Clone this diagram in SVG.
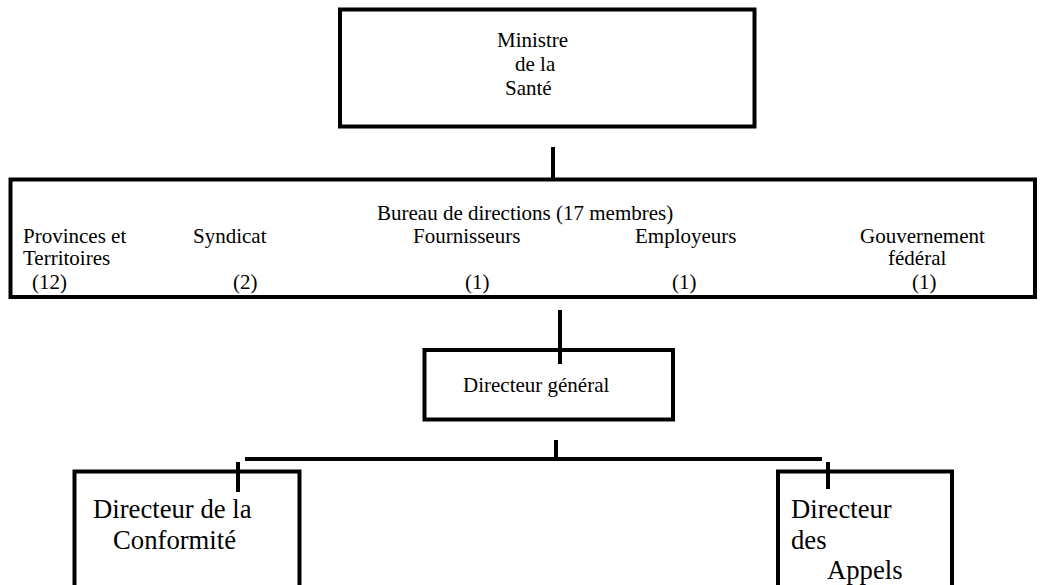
<svg xmlns="http://www.w3.org/2000/svg" width="1059" height="585" viewBox="0 0 1059 585">
<style>
.box{fill:#fff;stroke:#000;stroke-width:4}
.ln{stroke:#000;stroke-width:4;fill:none}
.t{font-family:"Liberation Serif","Times New Roman",serif;font-size:21px;fill:#000}
.tl{font-family:"Liberation Serif","Times New Roman",serif;font-size:26.7px;fill:#000}
</style>
<rect width="1059" height="585" fill="#fff"/>
<g id="ministre">
<rect class="box" x="340" y="9.5" width="414.5" height="117"/>
<text class="t" x="497" y="47">Ministre</text>
<text class="t" x="515" y="71">de la</text>
<text class="t" x="505" y="95">Santé</text>
</g>
<g id="bureau">
<rect class="box" x="10.5" y="179.5" width="1024.5" height="117.5"/>
<text class="t" x="377" y="220">Bureau de directions (17 membres)</text>
<text class="t" x="23" y="243">Provinces et</text>
<text class="t" x="23" y="265">Territoires</text>
<text class="t" x="32" y="289">(12)</text>
<text class="t" x="193" y="243">Syndicat</text>
<text class="t" x="233" y="289">(2)</text>
<text class="t" x="413" y="243">Fournisseurs</text>
<text class="t" x="465" y="289">(1)</text>
<text class="t" x="635" y="243">Employeurs</text>
<text class="t" x="672" y="289">(1)</text>
<text class="t" x="860" y="243">Gouvernement</text>
<text class="t" x="888" y="265">fédéral</text>
<text class="t" x="912" y="289">(1)</text>
</g>
<g id="directeur-general">
<rect class="box" x="424.5" y="350" width="248.5" height="69.5"/>
<text class="t" x="463" y="392">Directeur général</text>
</g>
<g id="conformite">
<rect class="box" x="74.5" y="471.5" width="225" height="130"/>
<text class="tl" x="93" y="518">Directeur de la</text>
<text class="tl" x="113" y="549">Conformité</text>
</g>
<g id="appels">
<rect class="box" x="778" y="471.5" width="174" height="130"/>
<text class="tl" x="791" y="518">Directeur</text>
<text class="tl" x="791" y="549">des</text>
<text class="tl" x="827" y="579">Appels</text>
</g>
<g id="connectors">
<line class="ln" x1="553" y1="147" x2="553" y2="179"/>
<line class="ln" x1="560" y1="310" x2="560" y2="364"/>
<line class="ln" x1="556" y1="440" x2="556" y2="461"/>
<line class="ln" x1="245" y1="459" x2="822" y2="459"/>
<line class="ln" x1="238" y1="462" x2="238" y2="492"/>
<line class="ln" x1="828" y1="462" x2="828" y2="489"/>
</g>
</svg>
